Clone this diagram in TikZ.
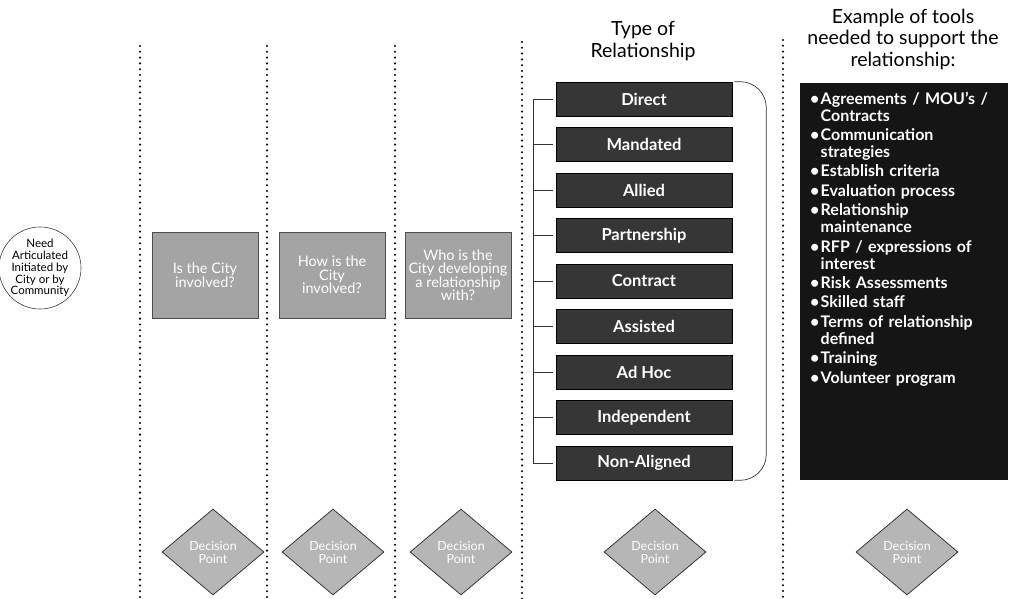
\documentclass[tikz,border=0pt]{standalone}
\usepackage{fontspec}
\setmainfont{Lato}
\usetikzlibrary{shapes.geometric}
\definecolor{askgrey}{HTML}{A4A4A4}
\definecolor{typegrey}{HTML}{363636}
\definecolor{toolblack}{HTML}{151515}
\definecolor{pointgrey}{HTML}{B6B6B6}
% one bullet entry of the tools list, continuation lines hang under the text
\newcommand\toolitem[1]{\par\hangindent=10.5pt\hangafter=1\noindent\makebox[10.5pt][l]{\textbullet}#1}

\begin{document}
\begin{tikzpicture}[x=1pt,y=-1pt,
  sep/.style={line width=2.3pt, line cap=round, dash pattern=on 0pt off 5.8pt},
  need/.style={circle, draw=black!75, line width=0.6pt, minimum size=74pt, inner sep=0pt,
    align=center, font=\fontsize{11.5}{11.8}\selectfont},
  ask/.style={draw=black!70, line width=0.8pt, fill=askgrey, minimum width=106pt,
    minimum height=86pt, inner sep=1pt, align=center, text=white,
    font=\fontsize{14.5}{13.5}\selectfont},
  reltype/.style={draw=black, line width=0.6pt, fill=typegrey, minimum width=176pt,
    minimum height=34pt, inner sep=0pt, text=white, font=\bfseries\fontsize{16.5}{18}\selectfont},
  point/.style={diamond, draw=black!85, line width=0.7pt, fill=pointgrey, minimum width=102pt,
    minimum height=86pt, inner sep=0pt, align=center, text=white,
    font=\fontsize{12.5}{13}\selectfont},
  head/.style={align=center, font=\fontsize{19.5}{21.5}\selectfont},
  bracket/.style={draw=black!80, line width=0.7pt}
]
\useasboundingbox (0,0) rectangle (1025,599);

% dotted column separators
\foreach \x/\y/\n in {140/46/s1, 267/46/s2, 395/46/s3, 522/42/s4, 783/40/s5} {
  \coordinate (\n top) at (\x,\y);
  \coordinate (\n bot) at (\x,599);
  \draw[sep] (\n top) -- (\n bot);
}

% column headings
\node[head] (typehead) at (643,41) {Type of\\Relationship};
\node[head] (toolhead) at (903,39) {Example of tools\\needed to support the\\relationship:};

% starting point
\node[need] (need) at (40,268) {Need\\Articulated\\Initiated by\\City or by\\Community};

% questions
\node[ask] (q1) at (205,275) {Is the City\\involved?};
\node[ask] (q2) at (332,275) {How is the\\City\\involved?};
\node[ask] (q3) at (458,275) {Who is the\\City developing\\a relationship\\with?};

% relationship types
\foreach \t [count=\i from 0] in {Direct, Mandated, Allied, Partnership, Contract,
    Assisted, Ad Hoc, Independent, Non-Aligned}
  \node[reltype] (r\i) at (644,{99+45.5*\i}) {\t};

% left comb joining the types
\coordinate (spine top) at (533,99);
\coordinate (spine bot) at (533,463);
\draw[bracket] (spine top) -- (spine bot);
\foreach \i in {0,...,8}
  \draw[bracket] (r\i.west -| spine top) -- ([xshift=-3pt]r\i.west);

% right bracket round the types
\draw[bracket, rounded corners=26pt] ([xshift=2pt]r0.north east)
  -| ([xshift=34pt]r8.south east) -- ([xshift=2pt]r8.south east);

% tools panel
\node[fill=toolblack, minimum width=208pt, minimum height=397pt, inner sep=0pt,
  anchor=north west] (tools) at (800,83) {};
\node[anchor=north west, text=white, text width=196pt, inner sep=0pt, align=left,
  font=\bfseries\fontsize{16}{17}\selectfont] (toollist) at (810,84.5) {%
  \parskip=2.4pt\relax
  \toolitem{Agreements / MOU’s /\newline Contracts}
  \toolitem{Communication\newline strategies}
  \toolitem{Establish criteria}
  \toolitem{Evaluation process}
  \toolitem{Relationship\newline maintenance}
  \toolitem{RFP / expressions of\newline interest}
  \toolitem{Risk Assessments}
  \toolitem{Skilled staff}
  \toolitem{Terms of relationship\newline defined}
  \toolitem{Training}
  \toolitem{Volunteer program}\par};

% decision points
\foreach \x/\n in {213/1, 333/2, 461/3, 655/4, 907/5}
  \node[point] (p\n) at (\x,552) {Decision\\Point};

\end{tikzpicture}
\end{document}
